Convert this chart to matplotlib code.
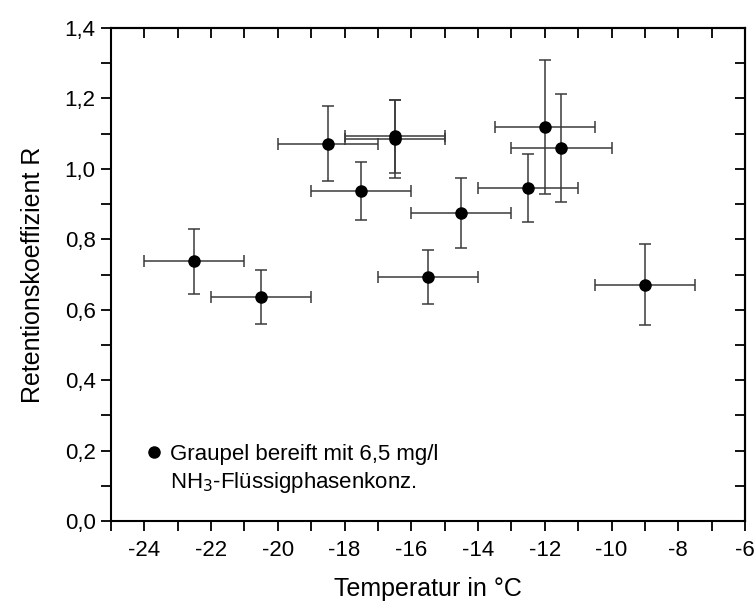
import matplotlib
matplotlib.use("Agg")
import matplotlib.pyplot as plt
from matplotlib.lines import Line2D
from matplotlib.ticker import MultipleLocator, FuncFormatter

plt.rcParams['font.family'] = ['Liberation Sans', 'DejaVu Sans']
plt.rcParams['axes.unicode_minus'] = False

# Measurements: temperature, retention coefficient and their uncertainties
temperature = [-22.5, -20.5, -18.5, -17.5, -16.5, -16.5, -15.5, -14.5, -12.5, -12.0, -11.5, -9.0]
retention = [0.737, 0.637, 1.072, 0.937, 1.092, 1.085, 0.693, 0.875, 0.945, 1.118, 1.060, 0.671]
temp_err = [1.5, 1.5, 1.5, 1.5, 1.5, 1.5, 1.5, 1.5, 1.5, 1.5, 1.5, 1.5]
ret_err = [0.092, 0.077, 0.107, 0.082, 0.104, 0.11, 0.077, 0.100, 0.097, 0.19, 0.153, 0.115]

legend_lines = ["Graupel bereift mit 6,5 mg/l", "NH$_3$-Flüssigphasenkonz."]

W, H = 754, 608
fig = plt.figure(figsize=(W / 100, H / 100), dpi=100)
left_px, right_px, top_px, bottom_px = 111, 745, 28, 521
ax = fig.add_axes([left_px / W, 1 - bottom_px / H,
                   (right_px - left_px) / W, (bottom_px - top_px) / H])

ax.errorbar(temperature, retention, xerr=temp_err, yerr=ret_err,
            fmt='o', color='black', markersize=8, ecolor='#3a3a3a',
            elinewidth=1.1, capsize=4, capthick=1.1, zorder=3)

ax.set_xlim(-25, -6)
ax.set_ylim(0, 1.4)

ax.xaxis.set_major_locator(MultipleLocator(2))
ax.xaxis.set_minor_locator(MultipleLocator(1))
ax.yaxis.set_major_locator(MultipleLocator(0.2))
ax.yaxis.set_minor_locator(MultipleLocator(0.1))
ax.xaxis.set_major_formatter(FuncFormatter(lambda v, p: f"{v:.0f}"))
ax.yaxis.set_major_formatter(FuncFormatter(lambda v, p: f"{v:.1f}".replace('.', ',')))

ax.tick_params(axis='both', which='both', direction='out', length=7, width=1.3,
               labelsize=16, colors='black')
ax.tick_params(axis='x', pad=7)
ax.tick_params(axis='y', pad=4)

for sp in ax.spines.values():
    sp.set_linewidth(1.5)

# Mirrored inward ticks on the top and right edges
top = ax.secondary_xaxis('top')
top.xaxis.set_major_locator(MultipleLocator(2))
top.xaxis.set_minor_locator(MultipleLocator(1))
top.tick_params(axis='x', which='both', direction='in', length=7, width=1.3, labeltop=False)
top.spines['top'].set_linewidth(1.5)
right = ax.secondary_yaxis('right')
right.yaxis.set_major_locator(MultipleLocator(0.2))
right.yaxis.set_minor_locator(MultipleLocator(0.1))
right.tick_params(axis='y', which='both', direction='in', length=7, width=1.3, labelright=False)
right.spines['right'].set_linewidth(1.5)

ax.set_xlabel("Temperatur in °C", fontsize=18, labelpad=11)
ax.set_ylabel("Retentionskoeffizient R", fontsize=18, labelpad=14)

handles = [Line2D([], [], linestyle='none', marker='o', color='black', markersize=8),
           Line2D([], [], linestyle='none', marker='')]
ax.legend(handles, legend_lines, loc='center left', bbox_to_anchor=(0.0505, 0.1045),
          frameon=False, fontsize=16, handletextpad=0.21, handlelength=1.0,
          labelspacing=0.25, borderpad=0, borderaxespad=0)

fig.savefig("out.png", dpi=100)
